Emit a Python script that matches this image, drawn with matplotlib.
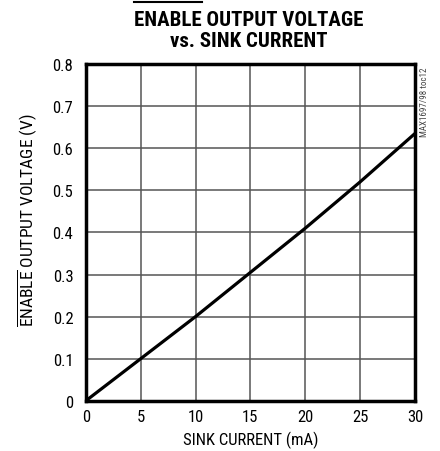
import matplotlib
matplotlib.use("Agg")
import matplotlib.pyplot as plt
from matplotlib.lines import Line2D

# sink current (mA) vs ENABLE output voltage (V)
sink_current = [0, 1, 2, 5, 10, 15, 20, 25, 30]
enable_voltage = [0, 0.02, 0.04, 0.1, 0.2, 0.305, 0.41, 0.52, 0.635]

x_ticks = [0, 5, 10, 15, 20, 25, 30]
y_ticks = [0, 0.1, 0.2, 0.3, 0.4, 0.5, 0.6, 0.7, 0.8]
y_tick_labels = ["0", "0.1", "0.2", "0.3", "0.4", "0.5", "0.6", "0.7", "0.8"]

plt.rcParams['font.family'] = ['Roboto Condensed', 'DejaVu Sans']
plt.rcParams['mathtext.fontset'] = 'custom'
plt.rcParams['mathtext.rm'] = 'Roboto Condensed'
plt.rcParams['mathtext.bf'] = 'Roboto Condensed:bold'

fig = plt.figure(figsize=(4.4, 4.52), dpi=100)
ax = fig.add_axes([0.195, 0.111, 0.748, 0.745])

ax.plot(sink_current, enable_voltage, color='black', lw=2.3, solid_capstyle='butt')

ax.set_xlim(0, 30)
ax.set_ylim(0, 0.8)
ax.set_xticks(x_ticks)
ax.set_yticks(y_ticks)
ax.set_yticklabels(y_tick_labels)
ax.tick_params(length=0, labelsize=12)
ax.tick_params(axis='y', pad=9)
ax.tick_params(axis='x', pad=6)
ax.grid(True, color='#555555', lw=1.1)
for s in ax.spines.values():
	s.set_linewidth(2.5)

ax.set_xlabel("SINK CURRENT (mA)", fontsize=12, labelpad=5)
ax.set_ylabel(r"$\overline{\mathrm{ENABLE}}$ OUTPUT VOLTAGE (V)", fontsize=12.5)
ax.yaxis.set_label_coords(-0.142, 0.54)

# title, drawn by hand so the bar over ENABLE sits like the original
tkw = dict(fontsize=15, fontweight='black', ha='center', va='baseline')
t1 = fig.text(0.566, 0.9425, "ENABLE OUTPUT VOLTAGE", **tkw)
fig.text(0.566, 0.896, "vs. SINK CURRENT", **tkw)
fig.canvas.draw()
r = fig.canvas.get_renderer()
bb = t1.get_window_extent(r)
tmp = fig.text(0, 0, "ENABLE", fontsize=15, fontweight='black')
w = tmp.get_window_extent(r).width
tmp.remove()
W, H = fig.bbox.width, fig.bbox.height
fig.add_artist(Line2D([bb.x0 / W, (bb.x0 + w) / W], [1 - 2.5 / H, 1 - 2.5 / H],
	transform=fig.transFigure, color='black', lw=1.5))

fig.text(0.965, 0.85, "MAX1697/98 toc12", rotation=90, fontsize=6.5,
	color='#444444', ha='center', va='top')

fig.savefig("out.png", dpi=100)
